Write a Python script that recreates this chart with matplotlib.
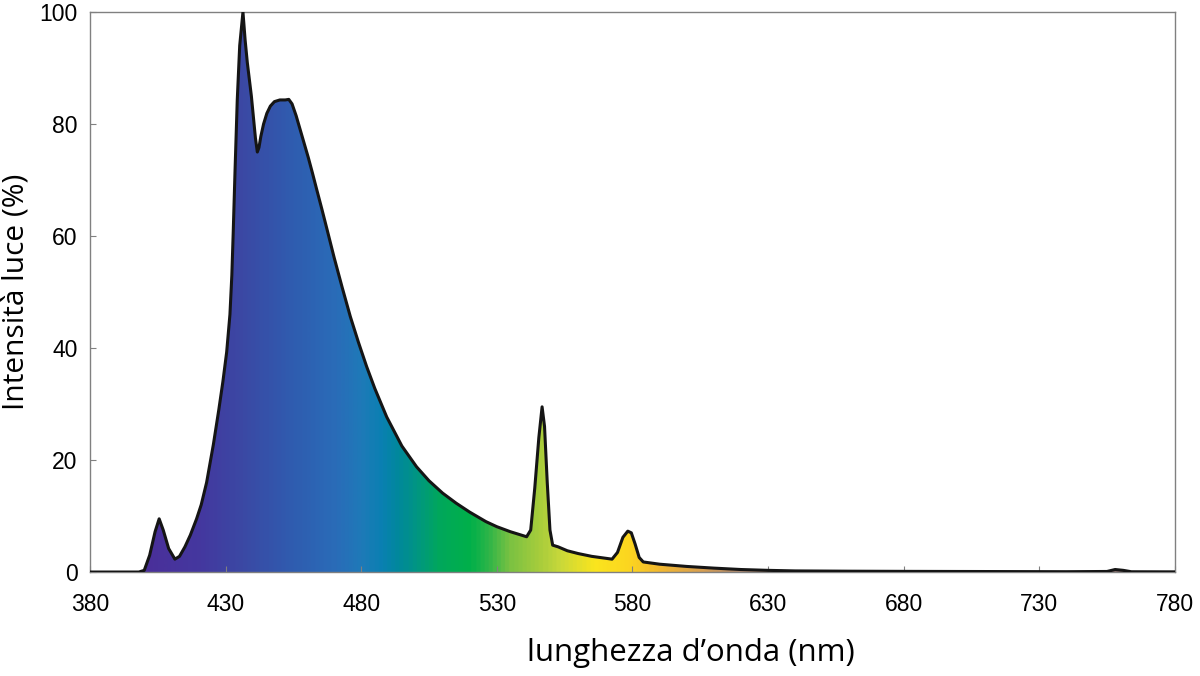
import matplotlib.pyplot as plt
import numpy as np
from matplotlib.colors import LinearSegmentedColormap
from matplotlib.patches import Polygon

# spectrum (nm, % of peak)
wavelength = [380, 398, 400, 402, 404, 405.5, 407, 409, 411.3, 413, 415, 417, 419.3,
              421, 423, 425.5, 427.5, 429, 430.4, 431.6, 432.3, 432.8, 433.5, 434.3,
              435.2, 436.4, 437.2, 438, 439.5, 441, 441.7, 442.3, 443, 444, 445.2,
              446.5, 448, 450, 452, 453.3, 454.5, 456, 457.5, 459, 460.5, 462,
              463.6, 465.5, 467.5, 470, 473, 476, 479, 482,
              485, 489.4, 495, 500.4, 505, 510, 515, 520, 526, 530, 535, 541, 542.5,
              544, 545.5, 546.7, 547.6, 548.6, 549.6, 550.6, 552.6, 556, 560, 565,
              568, 572.5, 574.5, 576.5, 578.3, 579.6, 581, 582.5, 584, 590, 600, 610,
              620, 630, 640, 660, 680, 700, 720, 740, 755, 758, 761, 764, 780]
intensity = [0, 0, 0.3, 3, 7.2, 9.5, 7.5, 4.2, 2.3, 2.8, 4.5, 6.6, 9.5,
             12, 16, 22.8, 29, 34, 39.3, 46, 53, 60.5, 72, 84.3,
             94, 100, 95, 91, 85, 77.5, 75, 75.8, 77.8, 80, 81.9,
             83.2, 84, 84.3, 84.3, 84.4, 83.6, 81.5, 79, 76.5, 74, 71.3,
             68.3, 64.8, 61, 56.2, 50.8, 45.6, 41, 36.7,
             32.8, 27.7, 22.5, 18.8, 16.3, 14.1, 12.3, 10.7, 9.0, 8.1, 7.2, 6.3, 7.5,
             15, 24, 29.5, 26, 16, 7.5, 4.8, 4.5, 3.8, 3.3, 2.8,
             2.6, 2.3, 3.5, 6.2, 7.3, 7.0, 5.0, 2.6, 1.8, 1.4, 1.0, 0.7,
             0.45, 0.3, 0.2, 0.15, 0.12, 0.1, 0.08, 0.06, 0.1, 0.45, 0.3, 0.05, 0.03]

x_ticks = [380, 430, 480, 530, 580, 630, 680, 730, 780]
y_ticks = [0, 20, 40, 60, 80, 100]

# colour along the wavelength axis
stops = [(380, '#4a2c94'), (400, '#4a2f9a'), (420, '#44389f'), (435, '#3b48a4'),
         (455, '#2f5db0'), (470, '#2a6cb8'), (480, '#1e7ab8'), (487, '#0a80b2'),
         (494, '#00899a'), (502, '#009a7a'), (509, '#00a85a'), (520, '#00b04a'),
         (527, '#30b548'), (535, '#7cc242'), (546, '#a8cd3c'), (553, '#c8d83a'),
         (566, '#fae51e'), (579, '#fcd520'), (590, '#f2b830'), (605, '#d9a050'),
         (620, '#b08a70'), (780, '#8a7070')]
cmap = LinearSegmentedColormap.from_list(
    'spec', [((w - 380) / 400, c) for w, c in stops])

fig = plt.figure(figsize=(12, 6.76), dpi=100)
ax = fig.add_axes([0.075, 0.1538, 0.904, 0.8284])

grad = np.linspace(0, 1, 800).reshape(1, -1)
im = ax.imshow(grad, cmap=cmap, extent=[380, 780, 0, 100], aspect='auto',
               interpolation='bilinear', zorder=1)
poly = Polygon(np.column_stack([wavelength + [780, 380], intensity + [0, 0]]),
               closed=True, facecolor='none', edgecolor='none',
               transform=ax.transData)
ax.add_patch(poly)
im.set_clip_path(poly)

ax.plot(wavelength, intensity, color='#151515', lw=2.2, zorder=3,
        solid_joinstyle='round')

ax.set_xlim(380, 780)
ax.set_ylim(0, 100)
ax.set_xticks(x_ticks)
ax.set_yticks(y_ticks)
ax.tick_params(direction='in', length=4, color='#808080', labelsize=16.5)
ax.tick_params(axis='x', pad=15)
ax.tick_params(axis='y', pad=9)
for lab in ax.get_xticklabels() + ax.get_yticklabels():
    lab.set_family('Liberation Sans')

for s in ax.spines.values():
    s.set_color('#808080')
    s.set_linewidth(1)

ax.set_xlabel('lunghezza d\u2019onda (nm)', family='Open Sans', fontsize=22.5,
              labelpad=14)
ax.xaxis.set_label_coords(0.554, -0.117)
ax.set_ylabel('Intensit\u00e0 luce (%)', family='Open Sans', fontsize=21.5,
              labelpad=6)

fig.savefig('out.png', dpi=100)
